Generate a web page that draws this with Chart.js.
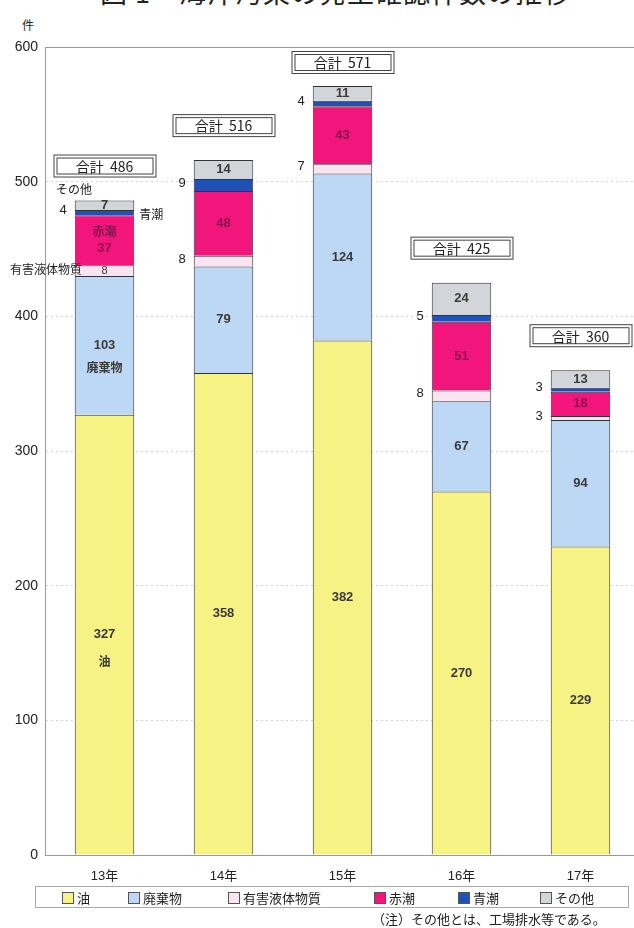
<!DOCTYPE html>
<html lang="ja">
<head>
<meta charset="utf-8">
<script src="https://cdn.jsdelivr.net/npm/chart.js@4"></script>
<style>
  html, body { margin: 0; padding: 0; background: #fff; overflow: hidden; }
  body { width: 634px; height: 928px; position: relative; font-family: "Liberation Sans", "Noto Sans CJK JP", sans-serif; }
  #titulo { position: absolute; top: -28px; left: 100px; font-size: 27px; font-family: "Noto Sans CJK JP"; color: #222; letter-spacing: 1px; white-space: nowrap; }
  #unidade { position: absolute; top: 16px; left: 22px; font-size: 12px; color: #222; font-family: "Noto Sans CJK JP"; }
  #grafico { position: absolute; top: 0; left: 0; }
  #legenda { position: absolute; left: 35px; top: 886px; width: 592px; height: 20px; border: 1px solid #aaa; font-size: 13px; font-family: "Noto Sans CJK JP"; color: #222; }
  #legenda span.item { position: absolute; top: 1px; white-space: nowrap; }
  #legenda i { display: inline-block; width: 10px; height: 10px; border: 1px solid #555; margin-right: 3px; vertical-align: -1px; }
  #nota { position: absolute; left: 372px; top: 909px; font-size: 13px; font-family: "Noto Sans CJK JP"; color: #222; white-space: nowrap; }
</style>
</head>
<body>
<div id="titulo">図 1　海洋汚染の発生確認件数の推移</div>
<div id="unidade">件</div>
<canvas id="grafico" width="650" height="928"></canvas>
<div id="legenda"></div>
<div id="nota">（注）その他とは、工場排水等である。</div>
<script>
const anos = ["13年", "14年", "15年", "16年", "17年"];
const series = ["油", "廃棄物", "有害液体物質", "赤潮", "青潮", "その他"];
const oleo = [327, 358, 382, 270, 229];
const residuos = [103, 79, 124, 67, 94];
const nocivos = [8, 8, 7, 8, 3];
const mareVermelha = [37, 48, 43, 51, 18];
const mareAzul = [4, 9, 4, 5, 3];
const outros = [7, 14, 11, 24, 13];
const ticksY = [0, 100, 200, 300, 400, 500, 600];

const cores = ["#f6f283", "#bdd8f4", "#fbe4f2", "#f2157b", "#2150b8", "#d2d5d9"];
const valores = [oleo, residuos, nocivos, mareVermelha, mareAzul, outros];
const totais = anos.map((_, i) => valores.reduce((s, v) => s + v[i], 0));

// legenda em HTML, abaixo do eixo
const posLegenda = [26, 92, 192, 338, 422, 504];
const legenda = document.getElementById("legenda");
series.forEach((nome, k) => {
  const item = document.createElement("span");
  item.className = "item";
  item.style.left = posLegenda[k] + "px";
  item.innerHTML = '<i style="background:' + cores[k] + '"></i>' + nome;
  legenda.appendChild(item);
});

const fonteNum = '"Liberation Sans", "Noto Sans CJK JP", sans-serif';
const fonteJp = '"Noto Sans CJK JP", sans-serif';

// rótulos dos segmentos e caixas de total
const rotulos = {
  id: "rotulos",
  afterDatasetsDraw(chart) {
    const ctx = chart.ctx;
    ctx.save();
    ctx.textBaseline = "middle";
    chart.data.datasets.forEach((ds, d) => {
      const meta = chart.getDatasetMeta(d);
      meta.data.forEach((bar, i) => {
        const v = ds.data[i];
        const meio = (bar.y + bar.base) / 2;
        const esq = bar.x - bar.width / 2;
        const fora = d === 4 || (d === 2 && i > 0);
        if (fora) {
          ctx.font = "13px " + fonteNum;
          ctx.fillStyle = "#222";
          ctx.textAlign = "right";
          ctx.fillText(v, esq - 8, meio - 2);
          return;
        }
        ctx.textAlign = "center";
        ctx.font = (d === 2 ? "11px " : "bold 13px ") + fonteNum;
        ctx.fillStyle = d === 3 ? "#8c1450" : "#3a3a3a";
        let y = meio;
        if (i === 0 && d === 3) y = meio + 8;
        ctx.fillText(v, bar.x, y);
        if (i === 0) {
          ctx.font = "bold 12px " + fonteJp;
          if (d === 0) ctx.fillText(series[0], bar.x, meio + 27);
          if (d === 1) ctx.fillText(series[1], bar.x, meio + 22);
          if (d === 3) ctx.fillText(series[3], bar.x, meio - 9);
        }
      });
    });

    // caixas "合計"
    const topo = chart.getDatasetMeta(5).data;
    topo.forEach((bar, i) => {
      const w = 102, h = 22;
      const yb = Math.max(chart.chartArea.top + 4, bar.y - 24 - h);
      const xb = bar.x - w / 2;
      ctx.fillStyle = "#fff";
      ctx.fillRect(xb, yb, w, h);
      ctx.strokeStyle = "#444";
      ctx.lineWidth = 1;
      ctx.strokeRect(xb + 0.5, yb + 0.5, w, h);
      ctx.strokeRect(xb + 3.5, yb + 3.5, w - 6, h - 6);
      ctx.fillStyle = "#222";
      ctx.textAlign = "center";
      ctx.font = "14px " + fonteJp;
      ctx.fillText("合計  " + totais[i], bar.x, yb + h / 2 + 1);
    });

    // textos extras da primeira barra
    const b0 = chart.getDatasetMeta(5).data[0];
    ctx.font = "12px " + fonteJp;
    ctx.fillStyle = "#222";
    ctx.textAlign = "left";
    ctx.fillText(series[5], 56, b0.y - 11);
    const az = chart.getDatasetMeta(4).data[0];
    ctx.fillText(series[4], az.x + az.width / 2 + 5, (az.y + az.base) / 2 + 2);
    const nc = chart.getDatasetMeta(2).data[0];
    ctx.fillText(series[2], 10, (nc.y + nc.base) / 2 - 1);
    ctx.restore();
  }
};

const ctx = document.getElementById("grafico").getContext("2d");
new Chart(ctx, {
  type: "bar",
  data: {
    labels: anos,
    datasets: series.map((nome, k) => ({
      label: nome,
      data: valores[k],
      backgroundColor: cores[k],
      borderColor: "#333",
      borderWidth: 1,
      barPercentage: 1,
      categoryPercentage: 0.5
    }))
  },
  options: {
    responsive: false,
    animation: false,
    layout: { padding: { top: 47, right: 10, left: 0, bottom: 0 } },
    plugins: { legend: { display: false }, tooltip: { enabled: false } },
    scales: {
      x: {
        stacked: true,
        grid: { display: false, drawTicks: false },
        border: { color: "#999" },
        ticks: { font: { size: 13, family: fonteNum }, color: "#222", padding: 14 },
        afterFit(s) { s.height = 73; }
      },
      y: {
        stacked: true,
        min: 0,
        max: 600,
        afterBuildTicks(s) { s.ticks = ticksY.map(v => ({ value: v })); },
        grid: {
          color: c => c.tick.value === 600 ? "#999" : "#d4d4d4",
          drawTicks: false
        },
        border: {
          color: "#999",
          dash: c => (c.tick && c.tick.value === 600) ? [] : [2, 3]
        },
        ticks: { font: { size: 14, family: fonteNum }, color: "#222", padding: 7 },
        afterFit(s) { s.width = 45; }
      }
    }
  },
  plugins: [rotulos]
});
</script>
</body>
</html>
